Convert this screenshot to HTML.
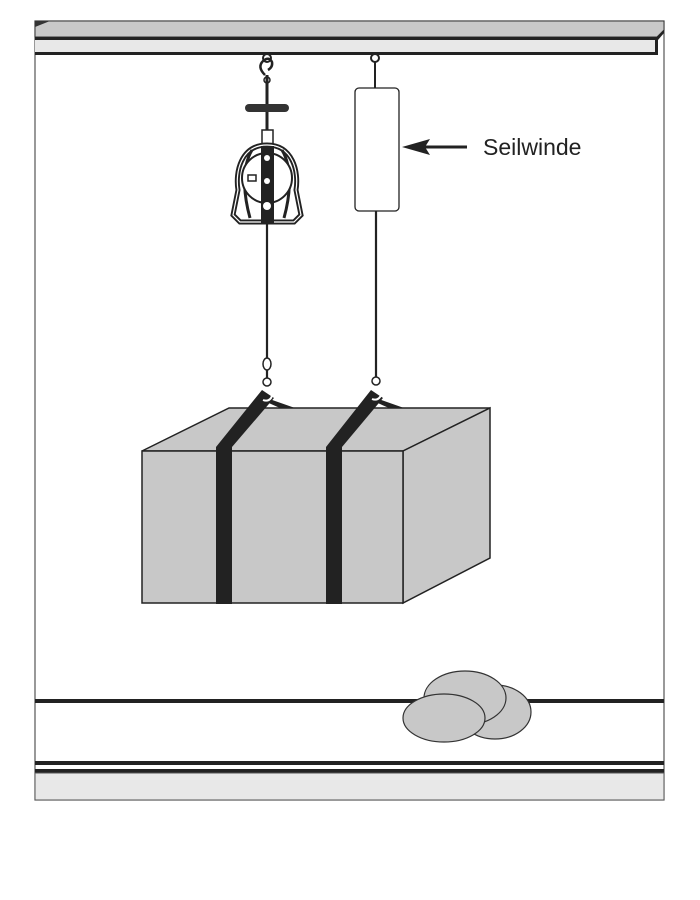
<!DOCTYPE html>
<html><head><style>body{margin:0;background:#fff}svg{display:block}</style></head><body>
<svg width="700" height="900" viewBox="0 0 700 900" xmlns="http://www.w3.org/2000/svg">
<rect x="35" y="21" width="629" height="779" fill="#fff" stroke="#555" stroke-width="1.2"/>
<!-- beam -->
<polygon points="35,21 664,21 664,30 657,37 35,37" fill="#c8c8c8" stroke="#333" stroke-width="1"/>
<polygon points="35,21 50,21 35,27" fill="#333"/>
<rect x="35" y="37" width="622" height="3" fill="#222"/>
<rect x="35" y="40" width="620" height="12" fill="#e8e8e8"/>
<rect x="35" y="52" width="622" height="3" fill="#222"/>
<rect x="655" y="37" width="3" height="18" fill="#222"/>
<polygon points="657,37 664,30 664,33 658,40" fill="#222"/>
<!-- winch right -->
<circle cx="375" cy="58" r="4" fill="none" stroke="#222" stroke-width="2"/>
<line x1="375" y1="62" x2="375" y2="88" stroke="#222" stroke-width="2"/>
<rect x="355" y="88" width="44" height="123" rx="4" fill="#fff" stroke="#222" stroke-width="1.3"/>
<line x1="376" y1="211" x2="376" y2="378" stroke="#222" stroke-width="2.2"/>
<polygon points="402,147 430,139 425,147 430,155" fill="#222"/>
<line x1="420" y1="147" x2="467" y2="147" stroke="#222" stroke-width="3"/>
<text x="483" y="155" font-family="Liberation Sans, sans-serif" font-size="23" fill="#222">Seilwinde</text>
<!-- device left -->
<circle cx="267" cy="58" r="4" fill="none" stroke="#222" stroke-width="2"/>
<path d="M265,75 q-8,-8 -2,-14 q6,-5 9,1 q1,5 -4,8" fill="none" stroke="#222" stroke-width="2.5"/>
<line x1="267" y1="75" x2="267" y2="132" stroke="#222" stroke-width="3"/>
<circle cx="267" cy="80" r="3" fill="none" stroke="#222" stroke-width="1.5"/>
<rect x="245" y="104" width="44" height="8" rx="4" fill="#333"/>
<rect x="262" y="130" width="11" height="16" fill="#fff" stroke="#222" stroke-width="1.5"/>
<path d="M267,145 C241,145 235,172 238,190 L233,215 L240,222 L294,222 L301,215 L296,190 C299,172 293,145 267,145 Z" fill="#fff" stroke="#222" stroke-width="5"/>
<path d="M267,145 C241,145 235,172 238,190 L233,215 L240,222 L294,222 L301,215 L296,190 C299,172 293,145 267,145 Z" fill="none" stroke="#fff" stroke-width="1.2"/>
<path d="M252,150 C240,170 245,200 250,218 M282,150 C294,170 289,200 284,218" fill="none" stroke="#222" stroke-width="3"/>
<circle cx="267" cy="178" r="25" fill="#fff" stroke="#222" stroke-width="2"/>
<rect x="261" y="146" width="13" height="78" fill="#222"/>
<circle cx="267" cy="158" r="3" fill="#fff"/><circle cx="267" cy="181" r="3" fill="#fff"/><circle cx="267" cy="206" r="4" fill="#fff"/>
<rect x="248" y="175" width="8" height="6" fill="#fff" stroke="#222" stroke-width="1.5"/>
<line x1="267" y1="224" x2="267" y2="380" stroke="#222" stroke-width="2.2"/>
<ellipse cx="267" cy="364" rx="4" ry="6" fill="#fff" stroke="#222" stroke-width="1.5"/>
<!-- box -->
<polygon points="142,451 229,408 490,408 403,451" fill="#c8c8c8" stroke="#222" stroke-width="1.5"/>
<polygon points="403,451 490,408 490,558 403,603" fill="#c8c8c8" stroke="#222" stroke-width="1.5"/>
<rect x="142" y="451" width="261" height="152" fill="#c8c8c8" stroke="#222" stroke-width="1.5"/>
<!-- straps -->
<polygon points="258,395 295,408 280,408 262,400" fill="#222"/>
<polygon points="216,604 216,447 262,390 274,398 232,447 232,604" fill="#222"/>
<polygon points="367,395 404,408 389,408 371,400" fill="#222"/>
<polygon points="326,604 326,447 371,390 383,398 342,447 342,604" fill="#222"/>
<circle cx="267" cy="382" r="4" fill="#fff" stroke="#222" stroke-width="1.5"/>
<path d="M265,389 q10,2 6,9 q-3,4 -8,2" fill="none" stroke="#fff" stroke-width="2"/>
<circle cx="376" cy="381" r="4" fill="#fff" stroke="#222" stroke-width="1.5"/>
<path d="M374,388 q10,2 6,9 q-3,4 -8,2" fill="none" stroke="#fff" stroke-width="2"/>
<!-- floor -->
<rect x="35" y="699" width="629" height="4" fill="#222"/>
<ellipse cx="495" cy="712" rx="36" ry="27" fill="#c8c8c8" stroke="#333" stroke-width="1.2"/>
<ellipse cx="465" cy="698" rx="41" ry="27" fill="#c8c8c8" stroke="#333" stroke-width="1.2"/>
<ellipse cx="444" cy="718" rx="41" ry="24" fill="#c8c8c8" stroke="#333" stroke-width="1.2"/>
<rect x="35" y="761" width="629" height="4" fill="#222"/>
<rect x="35" y="769" width="629" height="4" fill="#222"/>
<rect x="35" y="773" width="629" height="27" fill="#e8e8e8" stroke="#555" stroke-width="1"/>
</svg>
</body></html>
